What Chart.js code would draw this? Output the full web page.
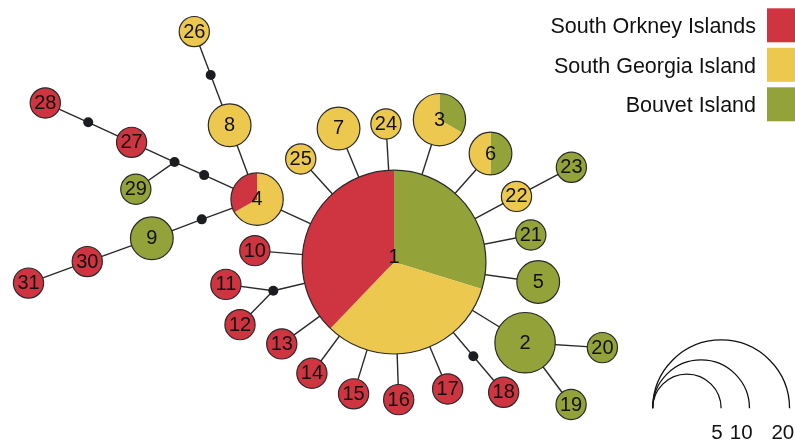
<!DOCTYPE html>
<html>
<head>
<meta charset="utf-8">
<script src="https://cdn.jsdelivr.net/npm/chart.js@4/dist/chart.umd.min.js"></script>
<style>
html, body { margin: 0; padding: 0; background: #fff; }
#board { display: block; }
</style>
</head>
<body>
<canvas id="board" width="795" height="445"></canvas>
<script>
// regions and their colours
const regions = ["South Orkney Islands", "South Georgia Island", "Bouvet Island"];
const regionColors = ["#cf3441", "#ecc84e", "#93a33a"];

// haplotypes with counts per region
const haplotypes = ["1", "2", "3", "4", "5", "6", "7", "8", "9", "10", "11", "12", "13", "14", "15", "16",
    "17", "18", "19", "20", "21", "22", "23", "24", "25", "26", "27", "28", "29", "30", "31"];
const orkney  = [14, 0, 0, 1, 0, 0, 0, 0, 0, 1, 1, 1, 1, 1, 1, 1, 1, 1, 0, 0, 0, 0, 0, 0, 0, 0, 1, 1, 0, 1, 1];
const georgia = [12, 0, 2, 2, 0, 1, 2, 2, 0, 0, 0, 0, 0, 0, 0, 0, 0, 0, 0, 0, 0, 1, 0, 1, 1, 1, 0, 0, 0, 0, 0];
const bouvet  = [11, 4, 1, 0, 2, 1, 0, 0, 2, 0, 0, 0, 0, 0, 0, 0, 0, 0, 1, 1, 1, 0, 1, 0, 0, 0, 0, 0, 1, 0, 0];

// network layout
const layoutX = [394, 526.7, 440, 255.3, 540, 491.7, 337.8, 227.5, 148.7, 253, 223.7, 238, 280.3, 310.8, 353, 398.7,
    448.3, 505, 573.3, 605, 532.5, 518, 573.6, 385.8, 299.5, 191.7, 128.2, 40.8, 132.5, 83.3, 23.8];
const layoutY = [263, 345.5, 117.3, 198.6, 283.3, 152, 126.3, 123, 238.7, 251.3, 285.8, 327, 346.7, 376.7, 397.8, 403.7,
    392.8, 396.2, 408.7, 350.5, 235.3, 195.8, 166, 121.7, 157.5, 27.2, 140.5, 100.2, 188.5, 262.5, 284.5];

// median vectors (missing haplotypes)
const medians = ["a", "b", "c", "d", "e", "f", "g"];
const medianX = [208.3, 84.3, 171.7, 201.7, 199.3, 271.7, 474.3];
const medianY = [71.7, 120, 160.7, 174, 219.3, 292.3, 359.3];

const links = [
    ["26", "a"], ["a", "8"], ["8", "4"], ["28", "b"], ["b", "27"], ["27", "c"], ["c", "29"], ["c", "d"], ["d", "4"],
    ["4", "e"], ["e", "9"], ["9", "30"], ["30", "31"], ["4", "1"], ["10", "1"], ["11", "f"], ["12", "f"], ["f", "1"],
    ["13", "1"], ["14", "1"], ["15", "1"], ["16", "1"], ["17", "1"], ["1", "g"], ["g", "18"], ["1", "2"], ["2", "20"],
    ["2", "19"], ["1", "5"], ["1", "21"], ["1", "22"], ["22", "23"], ["1", "6"], ["1", "3"], ["1", "24"], ["1", "7"],
    ["1", "25"]
];

const sizeKeys = [5, 10, 20];

const radiusUnit = 15.3;
const font = "'Liberation Sans', Arial, Helvetica, sans-serif";

function position(id) {
    let i = haplotypes.indexOf(id);
    if (i >= 0) return { x: layoutX[i], y: layoutY[i] };
    i = medians.indexOf(id);
    return { x: medianX[i], y: medianY[i] };
}

const linkSets = links.map(([a, b]) => ({
    data: [position(a), position(b)],
    showLine: true,
    borderColor: "#2a2a2a",
    borderWidth: 1.4,
    pointRadius: 0,
    order: 2
}));

const medianSet = {
    data: medianX.map((x, i) => ({ x: x, y: medianY[i] })),
    pointRadius: 5,
    pointBackgroundColor: "#1c1d21",
    pointBorderWidth: 0,
    order: 1
};

const pieNodes = {
    id: "pieNodes",
    afterDatasetsDraw(chart) {
        const ctx = chart.ctx;
        const xs = chart.scales.x, ys = chart.scales.y;
        const unit = xs.getPixelForValue(1) - xs.getPixelForValue(0);
        haplotypes.forEach((id, i) => {
            const cx = xs.getPixelForValue(layoutX[i]);
            const cy = ys.getPixelForValue(layoutY[i]);
            // slices go clockwise from 12 o'clock: Bouvet, South Georgia, South Orkney
            const parts = [[bouvet[i], 2], [georgia[i], 1], [orkney[i], 0]];
            const total = parts.reduce((s, p) => s + p[0], 0);
            const r = radiusUnit * Math.sqrt(total) * unit;
            let start = -Math.PI / 2;
            parts.forEach(([n, c]) => {
                if (!n) return;
                const end = start + n / total * Math.PI * 2;
                ctx.beginPath();
                ctx.moveTo(cx, cy);
                ctx.arc(cx, cy, r, start, end);
                ctx.closePath();
                ctx.fillStyle = regionColors[c];
                ctx.fill();
                start = end;
            });
            ctx.beginPath();
            ctx.arc(cx, cy, r, 0, Math.PI * 2);
            ctx.strokeStyle = "#2a2a2a";
            ctx.lineWidth = 1.2;
            ctx.stroke();
            ctx.fillStyle = "#111";
            ctx.font = "20px " + font;
            ctx.textAlign = "center";
            ctx.textBaseline = "middle";
            ctx.fillText(id, cx, cy + (i === 0 ? -5 : 0.5));
        });
    },
    afterDraw(chart) {
        const ctx = chart.ctx;
        const w = chart.width;
        // region key
        ctx.font = "21.5px " + font;
        ctx.textAlign = "right";
        ctx.textBaseline = "middle";
        regions.forEach((name, i) => {
            const top = 8.3 + i * 39.5;
            ctx.fillStyle = regionColors[i];
            ctx.fillRect(w - 28, top, 28, 34);
            ctx.fillStyle = "#111";
            ctx.fillText(name, w - 39, top + 19);
        });
        // size key: half circles sharing a left edge
        const x0 = 652.7, y0 = 408.3;
        ctx.font = "20.5px " + font;
        ctx.strokeStyle = "#111";
        ctx.lineWidth = 1.3;
        sizeKeys.forEach((n, k) => {
            const r = radiusUnit * Math.sqrt(n);
            ctx.beginPath();
            ctx.arc(x0 + r, y0, r, Math.PI, 0);
            ctx.stroke();
            ctx.fillStyle = "#111";
            ctx.fillText(String(n), x0 + 2 * r + 1.5 + k * 1.6, 433);
        });
    }
};

new Chart(document.getElementById("board"), {
    type: "scatter",
    data: { datasets: [medianSet, ...linkSets] },
    options: {
        responsive: false,
        devicePixelRatio: 1,
        animation: false,
        layout: { padding: 0 },
        scales: {
            x: { type: "linear", display: false, min: 0, max: 795 },
            y: { type: "linear", display: false, min: 0, max: 445, reverse: true }
        },
        plugins: {
            legend: { display: false },
            tooltip: { enabled: false }
        }
    },
    plugins: [pieNodes]
});
</script>
</body>
</html>
